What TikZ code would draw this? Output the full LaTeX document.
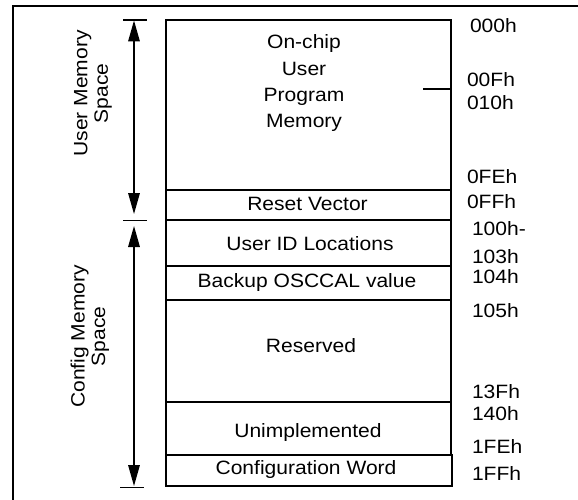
\documentclass[tikz,border=0pt]{standalone}
\usepackage{fontspec}
\setmainfont{Liberation Sans}[FakeStretch=1.09]
\usetikzlibrary{arrows.meta}
\begin{document}
\begin{tikzpicture}[x=1pt,y=-1pt,
  every node/.style={font=\fontsize{19.3}{26.3}\selectfont, inner sep=0pt, outer sep=0pt},
  cell/.style={draw, line width=1.8pt, minimum width=285pt},
  txt/.style={anchor=base},
  addr/.style={anchor=base west},
  side/.style={rotate=90, align=center, font=\fontsize{19.3}{20.5}\selectfont},
  span/.style={line width=1.6pt, {Triangle[width=11.5pt,length=21pt]}-{Triangle[width=11.5pt,length=21pt]}},
  tick/.style={line width=1.8pt}]
\useasboundingbox (0,0) rectangle (578,500);
% outer frame (right and bottom edges lie outside the picture)
\draw[line width=2pt] (13,502) -- (13,6) -- (580,6);

% memory cells
\node[cell, minimum height=170pt] (prog) at (308.5,105) {};
\node[cell, minimum height=30pt] (reset) at (308.5,205) {};
\node[cell, minimum height=46pt] (uid) at (308.5,243) {};
\node[cell, minimum height=34pt] (osc) at (308.5,283) {};
\node[cell, minimum height=102pt] (resv) at (308.5,351) {};
\node[cell, minimum height=53pt] (unimp) at (308.5,428.5) {};
\node[cell, minimum height=31pt, minimum width=286pt] (cfgw) at (309,470.5) {};

% cell texts
\node[anchor=north, align=center] (progtxt) at (304,35) {On-chip\\User\\Program\\Memory};
\node[txt] (resettxt) at (307.5,210) {Reset Vector};
\node[txt] (uidtxt) at (310,250) {User ID Locations};
\node[txt] (osctxt) at (307,287) {Backup OSCCAL value};
\node[txt] (resvtxt) at (311,352) {Reserved};
\node[txt] (unimptxt) at (308,437) {Unimplemented};
\node[txt] (cfgwtxt) at (306,474.5) {Configuration Word};

% boundary mark inside program memory
\coordinate (mk) at (423,89);
\draw[line width=1.8pt] (mk) -- (prog.east |- mk);

% addresses
\node[addr] (a000) at (470,33) {000h};
\node[addr] (a00F) at (467,86.5) {00Fh};
\node[addr] (a010) at (467,109.5) {010h};
\node[addr] (a0FE) at (467,183.5) {0FEh};
\node[addr] (a0FF) at (467,208.5) {0FFh};
\node[addr] (a100) at (472,235) {100h-};
\node[addr] (a103) at (472,263.5) {103h};
\node[addr] (a104) at (472,283.5) {104h};
\node[addr] (a105) at (472,317) {105h};
\node[addr] (a13F) at (472,398.5) {13Fh};
\node[addr] (a140) at (472,420) {140h};
\node[addr] (a1FE) at (472,453) {1FEh};
\node[addr] (a1FF) at (472,480) {1FFh};

% span ticks
\coordinate (t1l) at (123,20);  \coordinate (t1r) at (147,20);
\coordinate (t2l) at (123,220.5); \coordinate (t2r) at (147,220.5);
\coordinate (t3l) at (120,487.5); \coordinate (t3r) at (144,487.5);
\draw[tick] (t1l) -- (t1r);
\draw[tick] (t2l) -- (t2r);
\draw[tick] (t3l) -- (t3r);

% span arrows
\coordinate (u1) at (134,20.5);  \coordinate (u2) at (134,214);
\coordinate (c1) at (134,226);   \coordinate (c2) at (134,486);
\draw[span] (u1) -- (u2);
\draw[span] (c1) -- (c2);

% side labels
\node[side] (userlbl) at (93,93.5) {User Memory\\Space};
\node[side] (cfglbl) at (90,336.5) {Config Memory\\Space};
\end{tikzpicture}
\end{document}
